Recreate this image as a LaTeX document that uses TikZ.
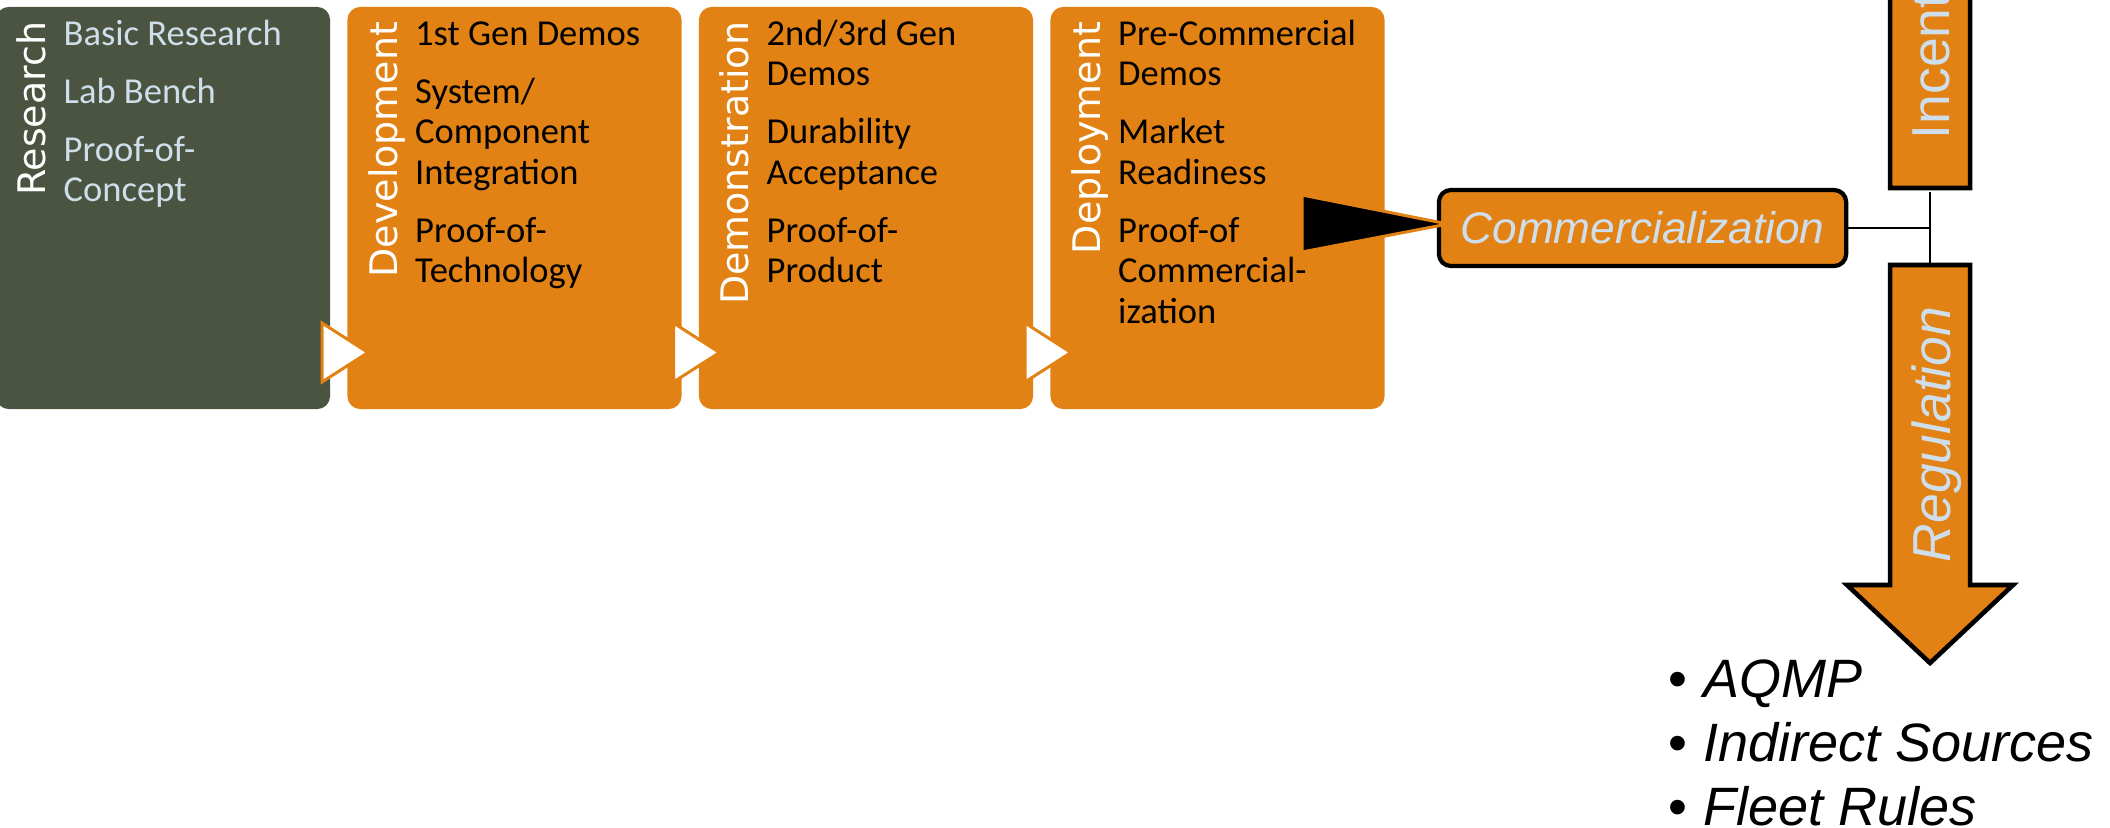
\documentclass[tikz,border=0pt]{standalone}
\usepackage{fontspec}
\setmainfont{Liberation Sans}
\newfontfamily\calibrifont{Carlito}
\newfontfamily\labelfont{DejaVu Sans}
\definecolor{stageorange}{RGB}{227,130,20}
\definecolor{stagegreen}{RGB}{75,84,64}
\definecolor{paleblue}{RGB}{206,222,235}
\newcommand{\stagelines}[1]{\parbox[t]{3cm}{\raggedright\calibrifont\fontsize{10.39pt}{11.52pt}\selectfont #1}}
\begin{document}
\begin{tikzpicture}[x=0.01cm,y=-0.01cm,
  stagebox/.style={rectangle, rounded corners=0.13cm, minimum width=3.34cm, minimum height=4.02cm, inner sep=0pt},
  stagelabel/.style={rotate=90, anchor=north east, inner sep=0pt, text=white, font=\labelfont\fontsize{10.8pt}{13pt}\selectfont},
  stagetext/.style={anchor=base west, inner sep=0pt},
  chevron/.style={fill=white, draw=stageorange, line width=0.85pt, line join=miter},
  bigarrow/.style={fill=stageorange, draw=black, line width=1.3pt, line join=miter},
  arrowtext/.style={rotate=90, anchor=base west, inner sep=0pt, text=paleblue, font=\fontsize{15.2pt}{18pt}\selectfont},
  link/.style={draw=black, line width=0.6pt}]
\clip (0,0) rectangle (2110,827);
% stage boxes
\node[stagebox, fill=stagegreen] (research) at (163,208) {};
\node[stagebox, fill=stageorange] (development) at (514.5,208) {};
\node[stagebox, fill=stageorange] (demonstration) at (866,208) {};
\node[stagebox, fill=stageorange] (deployment) at (1217.5,208) {};
% vertical labels
\node[stagelabel] (researchlabel) at (16,21) {Research};
\node[stagelabel] (developmentlabel) at (367.5,21) {Development};
\node[stagelabel] (demonstrationlabel) at (719,21) {Demonstration};
\node[stagelabel] (deploymentlabel) at (1070.5,21) {Deployment};
% stage texts
\node[stagetext, text=paleblue] (researchtext) at (63,45) {\stagelines{Basic Research\\[4.98pt]Lab Bench\\[4.98pt]Proof-of-\\Concept}};
\node[stagetext] (developmenttext) at (414.5,45) {\stagelines{1st Gen Demos\\[4.98pt]System/\\Component\\Integration\\[4.98pt]Proof-of-\\Technology}};
\node[stagetext] (demonstrationtext) at (766,45) {\stagelines{2nd/3rd Gen\\Demos\\[4.98pt]Durability\\Acceptance\\[4.98pt]Proof-of-\\Product}};
\node[stagetext] (deploymenttext) at (1117.5,45) {\stagelines{Pre-Commercial\\Demos\\[4.98pt]Market\\Readiness\\[4.98pt]Proof-of\\Commercial-\\ization}};
% chevrons between stages
\draw[chevron] (322,323) -- (322,382) -- (368,352.5) -- cycle;
\draw[chevron] (673.5,323) -- (673.5,382) -- (719.5,352.5) -- cycle;
\draw[chevron] (1025,323) -- (1025,382) -- (1071,352.5) -- cycle;
% commercialization
\node[draw=black, line width=1.2pt, fill=stageorange, rounded corners=0.12cm, minimum width=4.07cm, minimum height=0.76cm, inner sep=0pt, text=paleblue, font=\itshape\fontsize{12.58pt}{15pt}\selectfont] (commercialization) at (1642.5,228) {Commercialization};
\draw[fill=black, draw=stageorange, line width=0.85pt, line join=miter] (1302,195) -- (1302,252) -- ([xshift=0.11cm,yshift=0.04cm]commercialization.west) -- cycle;
% incentives arrow (upward, head outside the frame)
\draw[bigarrow] (1890,188) -- (1890,-50) -- (1847,-50) -- (1930,-134) -- (2013,-50) -- (1970,-50) -- (1970,188) -- cycle;
\node[arrowtext] (incentives) at (1949,140) {Incentives};
% regulation arrow
\draw[bigarrow] (1890,265) -- (1970,265) -- (1970,585) -- (2013,585) -- (1930,663) -- (1847,585) -- (1890,585) -- cycle;
\node[arrowtext, font=\itshape\fontsize{15.2pt}{18pt}\selectfont] (regulation) at (1950,563) {Regulation};
% connectors
\coordinate (junction) at (1930,228);
\coordinate (incentivesfoot) at (1930,192);
\coordinate (regulationhead) at (1930,266);
\draw[link] (commercialization.east) -- (junction);
\draw[link] (incentivesfoot) -- (regulationhead);
% regulation list
\node[anchor=base west, inner sep=0pt] (regulationlist) at (1668,697) {\parbox[t]{5cm}{\raggedright\fontsize{15.36pt}{18.2pt}\selectfont
  \makebox[0.35cm][l]{•}\textit{AQMP}\\
  \makebox[0.35cm][l]{•}\textit{Indirect Sources}\\
  \makebox[0.35cm][l]{•}\textit{Fleet Rules}}};
\end{tikzpicture}
\end{document}
